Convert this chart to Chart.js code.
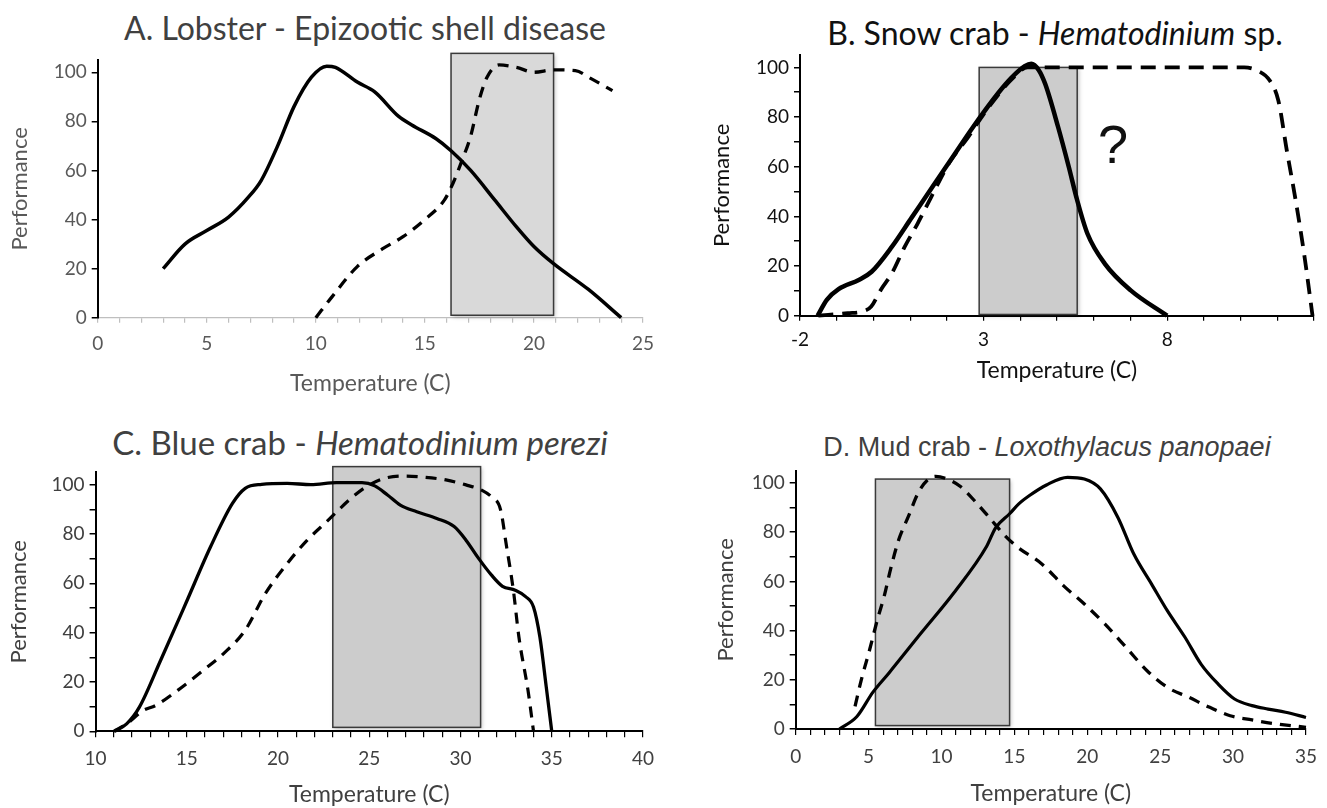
<!DOCTYPE html>
<html>
<head>
<meta charset="utf-8">
<script src="https://cdn.jsdelivr.net/npm/chart.js@4.4.1/dist/chart.umd.min.js"></script>
<style>
  html, body { margin: 0; padding: 0; background: #fff; }
  body { width: 1327px; height: 808px; position: relative; overflow: hidden; }
  canvas { position: absolute; }
  .ttl { position: absolute; white-space: nowrap; transform: translate(-50%, -50%); line-height: 1; }
  .calibri { font-family: Lato, "Open Sans", sans-serif; }
  .arial { font-family: "Liberation Sans", Arial, sans-serif; }
  .q { position: absolute; font-family: "Liberation Sans", Arial, sans-serif; font-size: 54px; line-height: 1; transform: translate(-50%, -50%); color: #111; }
</style>
</head>
<body>
<div class="ttl calibri" style="left:365px; top:28px; font-size:32px; color:#404040;">A. Lobster - Epizootic shell disease</div>
<div class="ttl calibri" style="left:1055px; top:33px; font-size:32px; color:#111;">B. Snow crab - <i>Hematodinium</i> sp.</div>
<div class="ttl calibri" style="left:360px; top:442px; font-size:33px; color:#404040;">C. Blue crab - <i>Hematodinium perezi</i></div>
<div class="ttl arial" style="left:1047px; top:447px; font-size:27px; color:#404040;">D. Mud crab - <i>Loxothylacus panopaei</i></div>
<div class="q" style="left:1113px; top:144px;">?</div>

<canvas id="chartA" width="664" height="404" style="left:0; top:0;"></canvas>
<canvas id="chartB" width="663" height="404" style="left:664px; top:0;"></canvas>
<canvas id="chartC" width="664" height="404" style="left:0; top:404px;"></canvas>
<canvas id="chartD" width="663" height="404" style="left:664px; top:404px;"></canvas>

<script>
// ===== Datos =====
// A. Lobster
const aSolidT = [3, 4, 5, 6, 6.9, 7.5, 8.25, 9, 9.8, 10.5, 10.9, 11.9, 12.7, 13.8, 14.4, 15.5, 16.2, 17.1, 18.2, 19.2, 20, 20.9, 22.5, 24];
const aSolidP = [20, 30, 35.5, 41, 49, 56, 70, 86, 98, 102.5, 102, 96, 92, 82, 78.5, 73, 68, 60, 48, 37, 29, 22, 11.5, 0];
const aDashT = [10, 10.75, 11.9, 13.05, 14, 15, 15.9, 16.3, 16.7, 17.1, 17.5, 17.85, 18.4, 19.2, 20, 20.9, 21.9, 22.6, 23.6];
const aDashP = [0, 8.6, 20.8, 28, 33, 40, 48, 55, 64, 74, 89, 98, 103, 102, 100, 101, 100.7, 97.5, 92.5];
const aBox = [16.2, 20.9, 1, 107.7]; // x0, x1, y0, y1

// B. Snow crab
const bSolidT = [-1.52, -1.27, -0.95, -0.4, -0.05, 0.5, 1.05, 1.6, 2.15, 2.7, 3.4, 3.75, 4.12, 4.3, 4.5, 4.68, 5.03, 5.32, 5.55, 5.83, 6.3, 7.0, 8.0];
const bSolidP = [0, 6.4, 10.7, 14.4, 17.7, 27.7, 39.7, 51.7, 63.7, 75.7, 89.7, 95.7, 100.5, 101.5, 99, 93.3, 76, 60, 46.5, 33, 21, 10.3, 0];
const bDashT = [-1.5, -0.7, -0.3, -0.06, 0.2, 0.5, 0.85, 1.2, 1.57, 2.1, 2.57, 2.9, 3.4, 3.75, 4.2, 4.7, 6, 8, 10.1, 10.46, 10.8, 11.03, 11.26, 11.5, 11.73, 11.96];
const bDashP = [0, 1, 1.7, 3.7, 10.4, 17, 27.7, 37, 47.7, 62.4, 71.7, 79, 89, 95, 100, 100, 100, 100, 100, 98.7, 94.6, 86.6, 66.5, 46.5, 25, 0];
const bBox = [2.88, 5.55, 0.5, 100];

// C. Blue crab
const cSolidT = [11.03, 11.7, 12.4, 13.56, 14.94, 16.3, 17.5, 18.2, 19.1, 20.5, 21.8, 23.2, 24.6, 25.3, 26, 26.7, 27.6, 28.7, 29.65, 30.3, 31, 31.7, 32.3, 33, 33.55, 34, 34.35, 34.7, 35];
const cSolidP = [0, 3, 9.8, 28.7, 51.8, 74.8, 92.4, 98.5, 100.1, 100.5, 100, 100.8, 100.8, 99.5, 95.8, 91.7, 89, 86.3, 83, 77.5, 70, 63.3, 58.8, 57.2, 54.7, 50.4, 38.2, 17.9, 0];
const cDashT = [11, 11.7, 12.6, 13.3, 14.5, 15.9, 17, 18.2, 19.3, 20.5, 21.6, 22.75, 23.9, 24.8, 25.8, 26.9, 28.05, 29.2, 30.3, 31.2, 31.7, 32.2, 32.5, 32.9, 33.2, 33.7, 34];
const cDashP = [0, 3, 8.4, 10.5, 16.6, 24.7, 31.4, 41, 55.8, 68, 77.5, 85.6, 93.8, 99, 102.5, 103.5, 103, 101.9, 99.9, 97.6, 95, 89.7, 76, 57, 38.2, 16.5, 0];
const cBox = [23.0, 31.1, 1.6, 107.3];

// D. Mud crab
const dSolidT = [3, 4.2, 5.3, 6.4, 8.6, 10.84, 13.1, 13.7, 14.67, 15.3, 16.06, 17.2, 18.65, 19.8, 20.9, 22.1, 23.2, 24.4, 25.5, 26.7, 27.8, 28.97, 30.1, 31.3, 32.4, 33.6, 35];
const dSolidP = [0, 5.1, 15, 22.8, 39, 55.3, 74.3, 81.7, 87.5, 91.5, 95, 99.2, 102.3, 101.6, 97.6, 86, 71, 59, 48, 37.3, 26.4, 18.3, 12.2, 9.5, 8.1, 6.8, 4.7];
const dDashT = [4.07, 4.5, 5.07, 5.6, 6.07, 6.5, 7.07, 7.73, 8.4, 9.07, 9.6, 10.4, 11.3, 12.4, 13.3, 14.4, 15.2, 16.9, 18.36, 19.8, 21.2, 22.66, 24.1, 25.5, 26.96, 28.4, 29.8, 31.3, 32.7, 35];
const dDashP = [9.2, 20, 32.2, 44.4, 54, 64.8, 77, 86.4, 96, 101.4, 102.7, 101.6, 98.6, 91.9, 85.8, 78.3, 74, 67, 58.3, 50.8, 42.7, 33.2, 23.7, 16.9, 12.9, 8.8, 5.4, 3.7, 2.3, 0.7];
const dBox = [5.47, 14.67, 1.4, 101.6];

const FONT = "Lato, 'Open Sans', sans-serif";

// ===== Helpers =====
function toPoints(ts, ps) {
  return ts.map((t, i) => ({ x: t, y: ps[i] }));
}

// Rectángulo gris (rango de temperatura) dibujado con las escalas del gráfico
const boxPlugin = {
  id: "tempBox",
  beforeDatasetsDraw(chart, args, opts) {
    if (!opts.range) return;
    const [x0, x1, y0, y1] = opts.range;
    const xs = chart.scales.x;
    const ys = chart.scales.y;
    const left = xs.getPixelForValue(x0);
    const right = xs.getPixelForValue(x1);
    const top = ys.getPixelForValue(y1);
    const bottom = ys.getPixelForValue(y0);
    const ctx = chart.ctx;
    ctx.save();
    ctx.shadowColor = "rgba(0,0,0,0.25)";
    ctx.shadowBlur = 4;
    ctx.shadowOffsetX = 1.5;
    ctx.shadowOffsetY = 1.5;
    ctx.fillStyle = opts.fill;
    ctx.fillRect(left, top, right - left, bottom - top);
    ctx.shadowColor = "transparent";
    ctx.strokeStyle = "#3a3a3a";
    ctx.lineWidth = 1.5;
    ctx.strokeRect(left, top, right - left, bottom - top);
    ctx.restore();
  },
};

function makePanel(id, cfg) {
  const canvas = document.getElementById(id);
  const ctx = canvas.getContext("2d");
  return new Chart(ctx, {
    type: "line",
    data: {
      datasets: [
        {
          label: "solid",
          data: toPoints(cfg.solidT, cfg.solidP),
          borderColor: "#000",
          borderWidth: cfg.solidWidth,
          pointRadius: 0,
          fill: false,
          cubicInterpolationMode: "monotone",
          clip: false,
        },
        {
          label: "dashed",
          data: toPoints(cfg.dashT, cfg.dashP),
          borderColor: "#000",
          borderWidth: cfg.dashWidth,
          borderDash: cfg.dash,
          pointRadius: 0,
          fill: false,
          cubicInterpolationMode: "monotone",
          clip: false,
        },
      ],
    },
    options: {
      responsive: false,
      animation: false,
      layout: { padding: cfg.padding },
      plugins: {
        legend: { display: false },
        tooltip: { enabled: false },
        tempBox: { range: cfg.box, fill: cfg.boxFill },
      },
      scales: {
        x: {
          type: "linear",
          min: cfg.xMin,
          max: cfg.xMax,
          afterFit: (s) => { s.height = cfg.xAxisH; },
          ticks: {
            stepSize: 1,
            autoSkip: false,
            maxRotation: 0,
            includeBounds: false,
            padding: cfg.xTickPad,
            color: cfg.textColor,
            font: { family: FONT, size: 19 },
            callback: (v) => (cfg.xLabel(v) ? String(v) : ""),
          },
          grid: {
            drawOnChartArea: false,
            drawTicks: true,
            tickLength: cfg.xTickLen,
            color: cfg.xAxisColor,
            lineWidth: 1.2,
          },
          border: { display: true, color: cfg.xAxisColor, width: cfg.xAxisWidth },
          title: {
            display: true,
            text: "Temperature (C)",
            color: cfg.textColor,
            font: { family: FONT, size: 23 },
            padding: { top: 0, bottom: cfg.xTitlePad },
          },
        },
        y: {
          min: 0,
          max: 105,
          afterFit: (s) => { s.width = cfg.yAxisW; },
          ticks: {
            stepSize: 10,
            includeBounds: false,
            padding: 5,
            color: cfg.textColor,
            font: { family: FONT, size: 19 },
            callback: (v) => (v % 20 === 0 ? String(v) : ""),
          },
          grid: {
            drawOnChartArea: false,
            drawTicks: true,
            tickLength: 6,
            color: "#000",
            lineWidth: 1.5,
          },
          border: { display: true, color: "#000", width: 2 },
          title: {
            display: true,
            text: "Performance",
            color: cfg.textColor,
            font: { family: FONT, size: 22 },
            padding: { top: cfg.yTitlePad, bottom: 0 },
          },
        },
      },
    },
    plugins: [boxPlugin],
  });
}

// ===== Paneles =====
makePanel("chartA", {
  solidT: aSolidT, solidP: aSolidP, dashT: aDashT, dashP: aDashP,
  box: aBox, boxFill: "#d9d9d9",
  solidWidth: 3.5, dashWidth: 3.3, dash: [11, 8],
  xMin: 0, xMax: 25, xLabel: (v) => v % 5 === 0,
  padding: { top: 60, right: 12.5, bottom: 0, left: 0 },
  yAxisW: 97.7, xAxisH: 86.3, xTickPad: 10, xTickLen: 5, xTitlePad: 7, yTitlePad: 7,
  xAxisColor: "#bfbfbf", xAxisWidth: 1.2, textColor: "#595959",
});

makePanel("chartB", {
  solidT: bSolidT, solidP: bSolidP, dashT: bDashT, dashP: bDashP,
  box: bBox, boxFill: "#cccccc",
  solidWidth: 4.5, dashWidth: 3.8, dash: [15, 9],
  xMin: -2, xMax: 12, xLabel: (v) => (v + 2) % 5 === 0,
  padding: { top: 55, right: 13, bottom: 0, left: 0 },
  yAxisW: 136, xAxisH: 88.3, xTickPad: 8, xTickLen: 5, xTitlePad: 20, yTitlePad: 45,
  xAxisColor: "#000", xAxisWidth: 2, textColor: "#111",
});

makePanel("chartC", {
  solidT: cSolidT, solidP: cSolidP, dashT: cDashT, dashP: cDashP,
  box: cBox, boxFill: "#cccccc",
  solidWidth: 3.3, dashWidth: 3.2, dash: [11, 8],
  xMin: 10, xMax: 40, xLabel: (v) => v % 5 === 0,
  padding: { top: 68.3, right: 14, bottom: 0, left: 0 },
  yAxisW: 95.6, xAxisH: 76.7, xTickPad: 10, xTickLen: 6, xTitlePad: 0, yTitlePad: 6,
  xAxisColor: "#000", xAxisWidth: 2, textColor: "#404040",
});

makePanel("chartD", {
  solidT: dSolidT, solidP: dSolidP, dashT: dDashT, dashP: dDashP,
  box: dBox, boxFill: "#cccccc",
  solidWidth: 3.2, dashWidth: 3.3, dash: [11, 8],
  xMin: 0, xMax: 35, xLabel: (v) => v % 5 === 0,
  padding: { top: 66.7, right: 13, bottom: 0, left: 0 },
  yAxisW: 131.7, xAxisH: 79, xTickPad: 10, xTickLen: 6, xTitlePad: 1, yTitlePad: 49,
  xAxisColor: "#000", xAxisWidth: 2, textColor: "#404040",
});
</script>
</body>
</html>
